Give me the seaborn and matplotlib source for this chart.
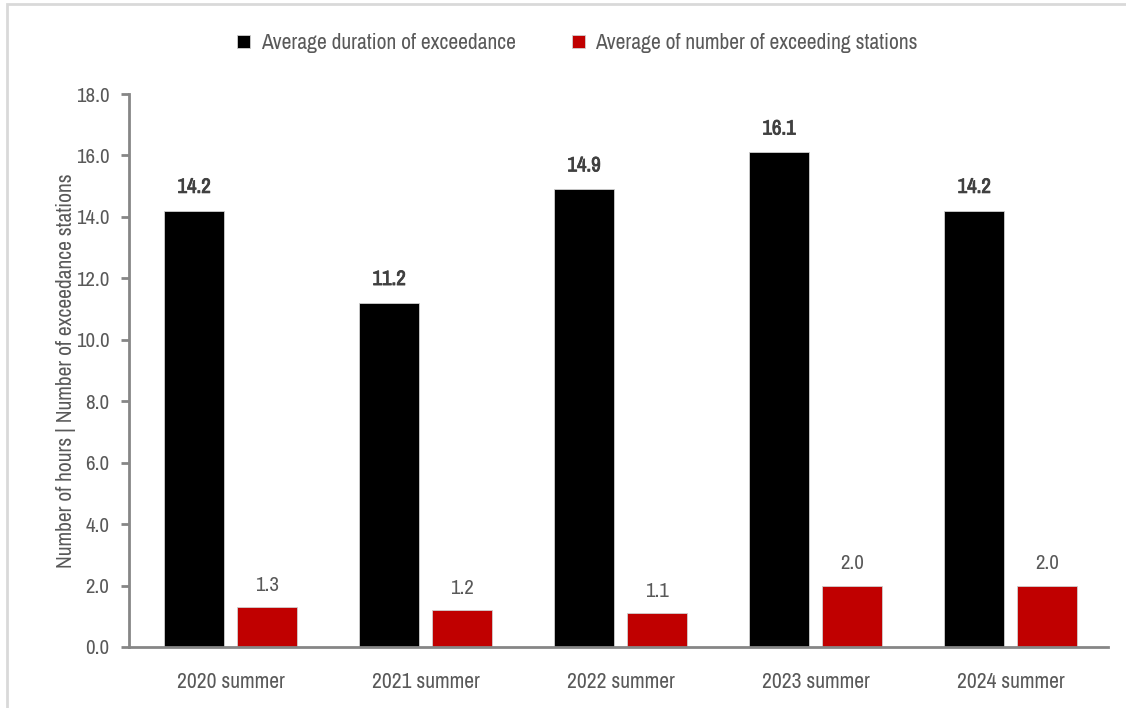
import matplotlib
matplotlib.use("Agg")
import matplotlib.pyplot as plt
from matplotlib import font_manager
from matplotlib import patheffects
from matplotlib.patches import Rectangle
import seaborn as sns
import pandas as pd

seasons = ["2020 summer", "2021 summer", "2022 summer", "2023 summer", "2024 summer"]
avg_duration = [14.2, 11.2, 14.9, 16.1, 14.2]
avg_stations = [1.3, 1.2, 1.1, 2.0, 2.0]
series_names = ["Average duration of exceedance", "Average of number of exceeding stations"]
y_ticks = [0, 2, 4, 6, 8, 10, 12, 14, 16, 18]

sns.set_theme(style="white")

# pick a narrow face when one is installed
fonts = font_manager.fontManager.ttflist
narrow = sorted({f.name for f in fonts if "Condensed" in f.name or "Narrow" in f.name})
bold_ok = False
if narrow:
    plt.rcParams["font.family"] = [narrow[0], "DejaVu Sans"]
    bold_ok = any(f.name == narrow[0] and f.weight in ("bold", 700) for f in fonts)
else:
    plt.rcParams["font.family"] = ["DejaVu Sans"]
    if any(f.name == "DejaVu Sans" and f.stretch == "condensed" for f in fonts):
        plt.rcParams["font.stretch"] = "condensed"
    bold_ok = True

df = pd.DataFrame({
    "season": seasons * 2,
    "value": avg_duration + avg_stations,
    "series": [series_names[0]] * len(seasons) + [series_names[1]] * len(seasons),
})

TEXT = "#595959"
AXIS = "#868686"

fig = plt.figure(figsize=(11.26, 7.08), dpi=100)
ax = fig.add_axes([0.1146, 0.0862, 0.8695, 0.781])

sns.barplot(data=df, x="season", y="value", hue="series",
            palette=["#000000", "#c00000"], saturation=1,
            width=0.745, gap=0.17,
            edgecolor="#d0d0d0", linewidth=0.6, ax=ax)

ax.set_xlim(-0.52, 4.5)
ax.set_ylim(0, 18)
ax.set_yticks(y_ticks)
ax.set_yticklabels([f"{t:.1f}" for t in y_ticks])
ax.set_xlabel("")
ax.set_ylabel("Number of hours | Number of exceedance stations",
              fontsize=15.5, color=TEXT, labelpad=0)

for side in ("top", "right"):
    ax.spines[side].set_visible(False)
for side in ("left", "bottom"):
    ax.spines[side].set_color(AXIS)
    ax.spines[side].set_linewidth(2)

ax.tick_params(axis="y", which="major", left=True, length=6, width=2,
               color=AXIS, labelsize=15, labelcolor=TEXT, pad=8)
ax.tick_params(axis="x", bottom=False, labelsize=15.5, labelcolor=TEXT, pad=12)

# value labels above the bars
dur_bars, sta_bars = ax.containers[0], ax.containers[1]
dur_texts = ax.bar_label(dur_bars, labels=[f"{v:.1f}" for v in avg_duration],
                         padding=10, fontsize=15, fontweight="bold", color="#404040")
if not bold_ok:
    for t in dur_texts:
        t.set_path_effects([patheffects.withStroke(linewidth=0.6, foreground="#404040")])
ax.bar_label(sta_bars, labels=[f"{v:.1f}" for v in avg_stations],
             padding=9, fontsize=15, color=TEXT)

leg = ax.legend(loc="center", bbox_to_anchor=(0.513, 0.939),
                bbox_transform=fig.transFigure, ncol=2, frameon=False,
                fontsize=15.5, handlelength=0.6, handleheight=0.6,
                handletextpad=0.5, columnspacing=2.6)
for t in leg.get_texts():
    t.set_color(TEXT)

# light frame around the chart area
fig.patches.append(Rectangle((7 / 1126, -0.01), 1.05, 1 - 4 / 708 + 0.01,
                             transform=fig.transFigure, fill=False,
                             edgecolor="#d9d9d9", linewidth=2))

fig.savefig("out.png", dpi=100)
